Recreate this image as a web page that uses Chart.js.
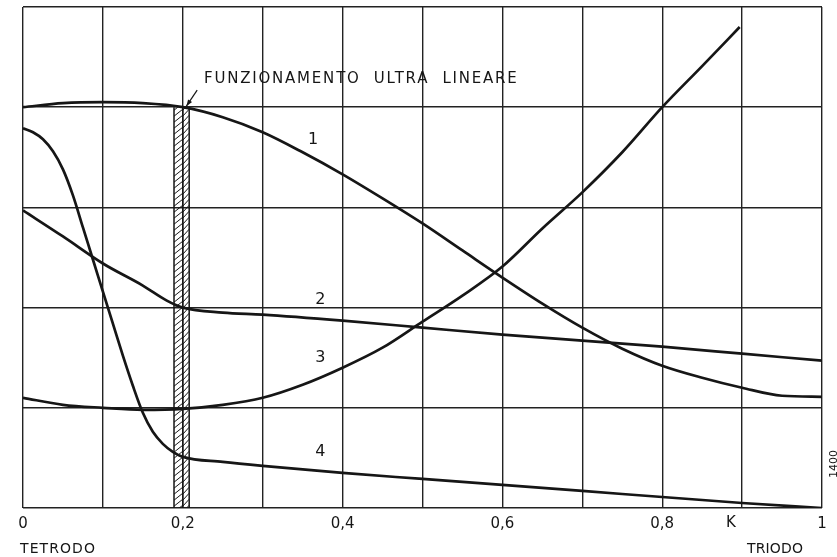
<!DOCTYPE html>
<html>
<head>
<meta charset="utf-8">
<script src="https://cdn.jsdelivr.net/npm/chart.js@4.4.1/dist/chart.umd.min.js"></script>
<style>
  html, body { margin: 0; padding: 0; background: #fff; }
  #wrap { width: 837px; height: 557px; }
</style>
</head>
<body>
<div id="wrap"><canvas id="chart"></canvas></div>
<script>
// curve 1
const k1 = [0, 0.05, 0.1, 0.15, 0.2, 0.25, 0.3, 0.35, 0.4, 0.45, 0.5, 0.55, 0.6, 0.65, 0.7, 0.75, 0.8, 0.85, 0.9, 0.95, 1.0]
const v1 = [4.0, 4.04, 4.05, 4.04, 4.0, 3.9, 3.75, 3.55, 3.33, 3.09, 2.84, 2.57, 2.30, 2.04, 1.80, 1.59, 1.42, 1.30, 1.20, 1.12, 1.11]
// curve 2
const k2 = [0, 0.05, 0.1, 0.15, 0.18, 0.2, 0.25, 0.3, 0.4, 0.5, 0.6, 0.7, 0.8, 0.9, 1.0]
const v2 = [2.97, 2.71, 2.44, 2.22, 2.07, 2.0, 1.95, 1.93, 1.87, 1.80, 1.73, 1.67, 1.61, 1.54, 1.47]
// curve 3
const k3 = [0, 0.05, 0.1, 0.15, 0.2, 0.25, 0.3, 0.35, 0.4, 0.45, 0.5, 0.55, 0.6, 0.65, 0.7, 0.75, 0.8, 0.85, 0.897]
const v3 = [1.10, 1.03, 1.0, 0.98, 0.99, 1.03, 1.10, 1.23, 1.40, 1.60, 1.86, 2.12, 2.41, 2.79, 3.15, 3.55, 4.0, 4.41, 4.80]
// curve 4
const k4 = [0, 0.0125, 0.025, 0.0375, 0.05, 0.0625, 0.075, 0.0875, 0.1, 0.1125, 0.125, 0.1375, 0.15, 0.1625, 0.175, 0.1875, 0.2, 0.25, 0.3, 0.4, 0.5, 0.7, 0.8, 0.9, 1.0]
const v4 = [3.79, 3.75, 3.68, 3.56, 3.38, 3.12, 2.80, 2.48, 2.16, 1.84, 1.52, 1.22, 0.95, 0.76, 0.64, 0.56, 0.51, 0.46, 0.42, 0.35, 0.29, 0.17, 0.11, 0.05, 0.0]

const curveNames = ['1', '2', '3', '4']
const labelK = [0.363, 0.372, 0.372, 0.372]
const labelV = [3.67, 2.08, 1.50, 0.56]

const tickValues = [0, 0.2, 0.4, 0.6, 0.8, 1]
const tickText = ['0', '0,2', '0,4', '0,6', '0,8', '1']

// ultra linear band
const bandK = [0.189, 0.2, 0.208]
const bandTop = 4.0
const bandTitle = 'FUNZIONAMENTO  ULTRA  LINEARE'

const INK = '#161616'

const toPoints = (xs, ys) => xs.map((x, i) => ({ x: x, y: ys[i] }))

const curveSet = (xs, ys) => ({
    data: toPoints(xs, ys),
    borderColor: INK,
    borderWidth: 2.7,
    pointRadius: 0,
    fill: false,
    cubicInterpolationMode: 'monotone'
})

const drawSpaced = (ctx, text, x, y, width) => {
    ctx.letterSpacing = '0px'
    const w = ctx.measureText(text).width
    const sp = (width - w) / (text.length - 1)
    ctx.letterSpacing = sp + 'px'
    ctx.textAlign = 'left'
    ctx.fillText(text, x, y)
    ctx.letterSpacing = '0px'
}

const sketchPlugin = {
    id: 'sketch',
    beforeDatasetsDraw(chart) {
        const ctx = chart.ctx
        const xs = chart.scales.x
        const area = chart.chartArea
        const xa = xs.getPixelForValue(bandK[0])
        const xm = xs.getPixelForValue(bandK[1])
        const xb = xs.getPixelForValue(bandK[2])
        const top = chart.scales.y.getPixelForValue(bandTop)
        ctx.save()
        ctx.strokeStyle = INK
        ctx.lineWidth = 1
        // hatching
        ctx.beginPath()
        ctx.rect(xa, top, xb - xa, area.bottom - top)
        ctx.clip()
        ctx.beginPath()
        for (let y = top - 10; y < area.bottom + 20; y += 6) {
            ctx.moveTo(xa, y + 7)
            ctx.lineTo(xm, y)
            ctx.moveTo(xm, y + 7)
            ctx.lineTo(xb, y)
        }
        ctx.stroke()
        ctx.restore()

        ctx.save()
        ctx.strokeStyle = INK
        ctx.lineWidth = 1.5
        ctx.beginPath()
        ;[xa, xm, xb].forEach(px => {
            ctx.moveTo(px, top)
            ctx.lineTo(px, area.bottom)
        })
        ctx.stroke()
        ctx.restore()
    },
    afterDraw(chart) {
        const ctx = chart.ctx
        const xs = chart.scales.x
        const ys = chart.scales.y
        ctx.save()
        ctx.fillStyle = INK
        ctx.textBaseline = 'middle'

        // curve numbers
        ctx.font = '16px "DejaVu Sans"'
        ctx.textAlign = 'center'
        curveNames.forEach((n, i) => {
            ctx.fillText(n, xs.getPixelForValue(labelK[i]), ys.getPixelForValue(labelV[i]))
        })

        // band title + arrow
        ctx.font = '15px "DejaVu Sans"'
        const tx0 = xs.getPixelForValue(0.2265)
        const tx1 = xs.getPixelForValue(0.618)
        drawSpaced(ctx, bandTitle, tx0, ys.getPixelForValue(4.28), tx1 - tx0)

        const ax0 = xs.getPixelForValue(0.218), ay0 = ys.getPixelForValue(4.17)
        const ax1 = xs.getPixelForValue(0.2045), ay1 = ys.getPixelForValue(4.01)
        ctx.strokeStyle = INK
        ctx.lineWidth = 1.2
        ctx.beginPath()
        ctx.moveTo(ax0, ay0)
        ctx.lineTo(ax1, ay1)
        ctx.stroke()
        const ang = Math.atan2(ay1 - ay0, ax1 - ax0)
        ctx.beginPath()
        ctx.moveTo(ax1, ay1)
        ctx.lineTo(ax1 - 7 * Math.cos(ang - 0.35), ay1 - 7 * Math.sin(ang - 0.35))
        ctx.lineTo(ax1 - 7 * Math.cos(ang + 0.35), ay1 - 7 * Math.sin(ang + 0.35))
        ctx.closePath()
        ctx.fill()

        // axis words
        const bottom = chart.chartArea.bottom
        ctx.font = '15px "DejaVu Sans"'
        ctx.textAlign = 'center'
        ctx.fillText('K', xs.getPixelForValue(0.886), bottom + 15)
        ctx.font = '14px "DejaVu Sans"'
        drawSpaced(ctx, 'TETRODO', 20, bottom + 41, 75)
        drawSpaced(ctx, 'TRIODO', 747, bottom + 41, 56)

        // figure number
        ctx.font = '11px "DejaVu Sans"'
        ctx.translate(834, 464)
        ctx.rotate(-Math.PI / 2)
        ctx.textAlign = 'center'
        ctx.fillText('1400', 0, 0)
        ctx.restore()
    }
}

const gridStyle = {
    drawTicks: false,
    color: '#222',
    lineWidth: 1.4
}

const chart = new Chart(document.getElementById('chart'), {
    type: 'line',
    data: {
        datasets: [curveSet(k1, v1), curveSet(k2, v2), curveSet(k3, v3), curveSet(k4, v4)]
    },
    options: {
        responsive: true,
        maintainAspectRatio: false,
        animation: false,
        layout: { padding: { left: 23, right: 15, top: 7, bottom: 0 } },
        plugins: {
            legend: { display: false },
            tooltip: { enabled: false }
        },
        scales: {
            x: {
                type: 'linear',
                min: 0,
                max: 1,
                grid: gridStyle,
                border: { display: false },
                ticks: {
                    stepSize: 0.1,
                    autoSkip: false,
                    maxRotation: 0,
                    padding: 7,
                    color: INK,
                    font: { family: 'DejaVu Sans', size: 15 },
                    callback: (v) => {
                        const i = tickValues.findIndex(t => Math.abs(t - v) < 1e-6)
                        return i >= 0 ? tickText[i] : ''
                    }
                },
                afterFit: (s) => { s.height = 49 }
            },
            y: {
                min: 0,
                max: 5,
                grid: gridStyle,
                border: { display: false },
                ticks: { display: false, stepSize: 1 },
                afterFit: (s) => { s.width = 0 }
            }
        }
    },
    plugins: [sketchPlugin]
})
</script>
</body>
</html>
